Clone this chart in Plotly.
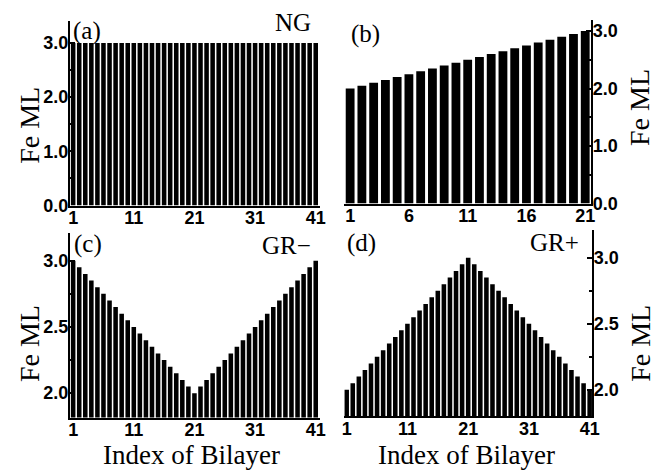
import plotly.graph_objects as go

# Fe monolayer thickness per bilayer for the four growth profiles
idx_41 = list(range(1, 42))
idx_21 = list(range(1, 22))

fe_ng = [3.0] * 41
fe_grad = [2.00, 2.05, 2.10, 2.15, 2.20, 2.25, 2.30, 2.35, 2.40, 2.45, 2.50,
           2.55, 2.60, 2.65, 2.70, 2.75, 2.80, 2.85, 2.90, 2.95, 3.00]
fe_gr_minus = [3.00, 2.95, 2.90, 2.85, 2.80, 2.75, 2.70, 2.65, 2.60, 2.55, 2.50,
               2.45, 2.40, 2.35, 2.30, 2.25, 2.20, 2.15, 2.10, 2.05, 2.00,
               2.05, 2.10, 2.15, 2.20, 2.25, 2.30, 2.35, 2.40, 2.45, 2.50,
               2.55, 2.60, 2.65, 2.70, 2.75, 2.80, 2.85, 2.90, 2.95, 3.00]
fe_gr_plus = [2.00, 2.05, 2.10, 2.15, 2.20, 2.25, 2.30, 2.35, 2.40, 2.45, 2.50,
              2.55, 2.60, 2.65, 2.70, 2.75, 2.80, 2.85, 2.90, 2.95, 3.00,
              2.95, 2.90, 2.85, 2.80, 2.75, 2.70, 2.65, 2.60, 2.55, 2.50,
              2.45, 2.40, 2.35, 2.30, 2.25, 2.20, 2.15, 2.10, 2.05, 2.00]

ticks_41 = [1, 11, 21, 31, 41]
ticks_21 = [1, 6, 11, 16, 21]

W, H = 665, 470


def px(x):
    return x / W


def py(y):
    return 1 - y / H


SERIF = "Liberation Serif, Times New Roman, serif"
SANS = "Liberation Sans, Arial, sans-serif"
tick_font = dict(family=SANS, size=18, color="black", weight="bold")

fig = go.Figure()

panels = [
    # trace suffix, x, y, x domain px, y domain px, x range, y range, side, tickvals, dtick, minor
    ("", idx_41, fe_ng, (68, 322), (210, 21.7), [0.46, 41.65], [0, 3.4], "left", ticks_41, 1.0, 0.5),
    ("2", idx_21, fe_grad, (347, 598), (208, 20), [0.5, 21.5], [0, 3.2], "right", ticks_21, 1.0, 0.5),
    ("3", idx_41, fe_gr_minus, (68, 322), (426.7, 238), [0.46, 41.65], [1.815, 3.21], "left", ticks_41, 0.5, 0.25),
    ("4", idx_41, fe_gr_plus, (347, 599), (425, 235), [0.6, 41.4], [1.802, 3.21], "right", ticks_41, 0.5, 0.25),
]

for sfx, xs, ys, xd, yd, xr, yr, side, tv, dt, mdt in panels:
    fig.add_trace(go.Bar(
        x=xs, y=ys, xaxis="x" + sfx, yaxis="y" + sfx,
        marker=dict(color="black", line=dict(width=0)),
        showlegend=False,
    ))
    fig.layout["xaxis" + sfx] = dict(
        domain=[px(xd[0]), px(xd[1])], range=xr, anchor="y" + sfx,
        tickvals=tv, ticks="", showgrid=False, zeroline=False,
        showline=True, linecolor="black", linewidth=2,
        tickfont=tick_font, ticklabelstandoff=-5,
    )
    fig.layout["yaxis" + sfx] = dict(
        domain=[py(yd[0]), py(yd[1])], range=yr, anchor="x" + sfx,
        side=side, dtick=dt, tick0=0, tickformat=".1f",
        ticks="inside", ticklen=5, tickwidth=2, tickcolor="black",
        minor=dict(dtick=mdt, ticks="inside", ticklen=3, tickwidth=1.5, tickcolor="black"),
        showgrid=False, zeroline=False,
        showline=True, linecolor="black", linewidth=2,
        tickfont=tick_font, ticklabelstandoff=-4,
    )

labels = [
    ("(a)", 69, 32, "left"), ("NG", 315, 23, "right"),
    ("(b)", 352, 35, "left"),
    ("(c)", 70, 249, "left"), ("GR\u2212", 315, 251, "right"),
    ("(d)", 348, 248, "left"), ("GR+", 588, 248, "right"),
]
annotations = []
for text, x, y, anchor in labels:
    annotations.append(dict(
        text=text, x=px(x), y=py(y), xref="paper", yref="paper",
        xanchor=anchor, yanchor="middle", showarrow=False,
        font=dict(family=SERIF, size=25, color="black"),
    ))

for x, y in [(27, 128), (647, 110), (27, 351), (648, 351)]:
    annotations.append(dict(
        text="Fe ML", x=px(x), y=py(y), xref="paper", yref="paper",
        xanchor="center", yanchor="middle", textangle=-90, showarrow=False,
        font=dict(family=SERIF, size=28, color="black"),
    ))

for x in (192, 471):
    annotations.append(dict(
        text="Index of Bilayer", x=px(x), y=py(465), xref="paper", yref="paper",
        xanchor="center", yanchor="middle", showarrow=False,
        font=dict(family=SERIF, size=27, color="black"),
    ))

fig.update_layout(
    width=W, height=H,
    margin=dict(l=0, r=0, t=0, b=0),
    paper_bgcolor="white", plot_bgcolor="white",
    bargap=0.25,
    annotations=annotations,
)

fig.write_html("out.html")
